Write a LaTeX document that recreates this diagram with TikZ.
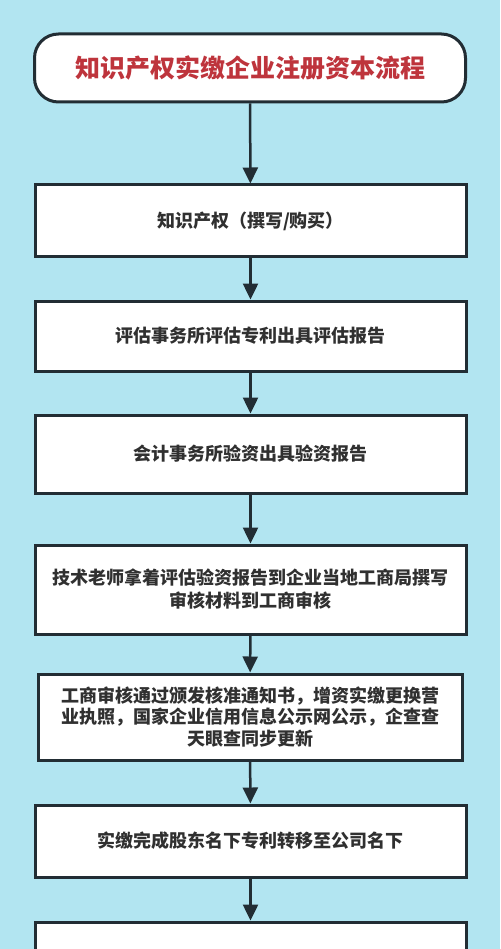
\documentclass[tikz,border=0pt]{standalone}
\usepackage{fontspec}
\setmainfont{Noto Sans CJK SC}
\usepackage{tikz}
\usetikzlibrary{arrows.meta}

\definecolor{bgblue}{RGB}{178,229,241}
\definecolor{edgedark}{RGB}{34,45,52}
\definecolor{titlered}{RGB}{190,52,60}
\definecolor{textgray}{RGB}{48,48,48}

\begin{document}
\begin{tikzpicture}[x=1pt,y=-1pt,
  stepbox/.style={draw=edgedark,line width=3pt,fill=white,minimum width=431pt,
    align=center,text=textgray,font=\fontsize{18}{23}\selectfont\bfseries},
  titlebox/.style={draw=edgedark,line width=3pt,fill=white,rounded corners=24pt,
    minimum width=431pt,minimum height=68pt,text=titlered,font=\fontsize{25}{30}\selectfont\bfseries},
  flow/.style={draw=edgedark,line width=2.5pt,-{Triangle[width=15pt,length=16pt]}}]
  \clip (0,0) rectangle (500,949);
  \fill[bgblue] (0,0) rectangle (500,949);
  \node[titlebox] (title) at (250,68) {知识产权实缴企业注册资本流程};
  \node[stepbox,minimum height=72pt] (ip) at (250.5,221) {知识产权（撰写/购买）};
  \node[stepbox,minimum height=70pt] (assess) at (250.5,336) {评估事务所评估专利出具评估报告};
  \node[stepbox,minimum height=78pt] (verify) at (250.5,454) {会计事务所验资出具验资报告};
  \node[stepbox,minimum height=89pt] (submit) at (250.5,589.5)
    {技术老师拿着评估验资报告到企业当地工商局撰写\\审核材料到工商审核};
  \node[stepbox,minimum height=86pt,minimum width=424pt,font=\fontsize{18}{21.5}\selectfont\bfseries]
    (license) at (250,717)
    {工商审核通过颁发核准通知书，增资实缴更换营\\业执照，国家企业信用信息公示网公示，企查查\\天眼查同步更新};
  \node[stepbox,minimum height=72pt] (transfer) at (250.5,841) {实缴完成股东名下专利转移至公司名下};
  \node[stepbox,minimum height=72pt] (last) at (250.5,958) {};
  \draw[flow] (title) -- (ip);
  \draw[flow] (ip) -- (assess);
  \draw[flow] (assess) -- (verify);
  \draw[flow] (verify) -- (submit);
  \draw[flow] (submit) -- (license);
  \draw[flow] (license) -- (transfer);
  \draw[flow] (transfer) -- (last);
\end{tikzpicture}
\end{document}
